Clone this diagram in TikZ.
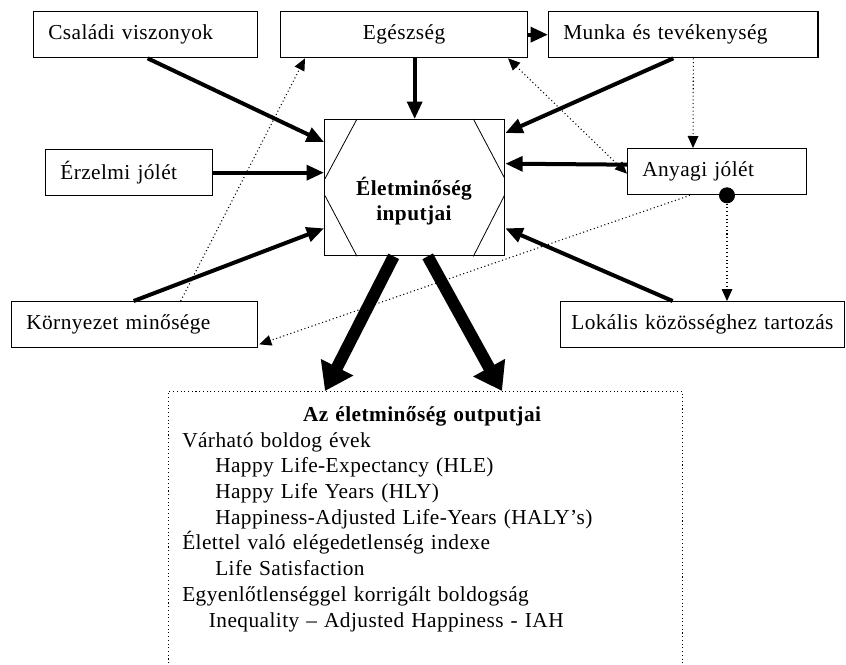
\documentclass[tikz,border=0pt]{standalone}
\usepackage{fontspec}
\setmainfont{Liberation Serif}[LetterSpace=2]
\usetikzlibrary{arrows.meta,calc}

\begin{document}
\begin{tikzpicture}[x=0.75pt,y=-0.75pt,
	every node/.style={font=\fontsize{16}{19.3}\selectfont},
	box/.style={draw,line width=1pt,anchor=north west,minimum height=34.5pt,inner xsep=11pt,inner ysep=0pt,text width=#1,align=left},
	inarr/.style={line width=3pt,-{Triangle[length=13pt,width=11pt]}},
	dotarr/.style={line width=0.8pt,dotted,-{Triangle[length=9pt,width=8pt]}},
	outarr/.style={line width=9pt,-{Triangle[length=20pt,width=26pt]}}]
	\useasboundingbox (0,0) rectangle (846,664);
	\clip (0,0) rectangle (846,664);

	\node[box=146pt] (cs) at (33,11) {Családi viszonyok};
	\node[box=163pt,align=center] (eg) at (280,11) {Egészség};
	\node[box=180pt] (mt) at (548,11) {Munka és tevékenység};
	\node[box=103pt] (ej) at (45,149) {Érzelmi jólét};
	\node[box=112pt] (aj) at (627,148) {Anyagi jólét};
	\node[box=162.5pt] (kz) at (11,301) {Környezet minősége};
	\node[box=197pt,inner xsep=8pt] (lk) at (560,301) {Lokális közösséghez tartozás};

	\node[draw,line width=1pt,anchor=north west,minimum width=135pt,minimum height=102pt,inner sep=0pt] (inp) at (324,119) {};
	\node[font=\bfseries\fontsize{16}{19.3}\selectfont,align=center] (inptxt) at (414,201) {Életminőség\\inputjai};
	\draw[line width=0.6pt] ($(inp.north west)+(33,0)$) -- ($(inp.west)+(1,-9)$)
		($(inp.west)+(1,8)$) -- ($(inp.south west)+(33,0)$)
		($(inp.north east)+(-32,0)$) -- ($(inp.east)+(-1,-10)$)
		($(inp.east)+(-1,8)$) -- ($(inp.south east)+(-32,0)$);

	\node[draw,dotted,line width=0.8pt,anchor=north west,minimum width=385.5pt,minimum height=300pt,inner sep=0pt] (out) at (168,391) {};
	\node[anchor=north west,inner sep=0pt,text width=360pt] (outtxt) at (182,406) {\centering\textbf{Az életminőség outputjai}\par
		\raggedright Várható boldog évek\\
		\hspace*{24.75pt}Happy Life-Expectancy (HLE)\\
		\hspace*{24.75pt}Happy Life Years (HLY)\\
		\hspace*{24.75pt}Happiness-Adjusted Life-Years (HALY’s)\\
		Élettel való elégedetlenség indexe\\
		\hspace*{24.75pt}Life Satisfaction\\
		Egyenlőtlenséggel korrigált boldogság\\
		\hspace*{20pt}Inequality – Adjusted Happiness - IAH};

	\node[circle,fill,inner sep=0pt,minimum size=12pt] (dot) at ($(aj.south)+(10,0)$) {};

	\draw[inarr] ($(cs.south)+(2,0)$) -- ($(inp.north west)+(0,23)$);
	\draw[inarr] (eg.south -| inp.north) -- (inp.north);
	\draw[inarr] (eg.east) -- (mt.west);
	\draw[inarr] ($(mt.south)+(-10,0)$) -- ($(inp.north east)+(0,14)$);
	\draw[inarr] (ej.east) -- (ej.east -| inp.west);
	\draw[inarr] ($(aj.west)+(0,-7)$) -- ($(inp.east)+(0,-24)$);
	\draw[inarr] ($(kz.north)+(-1,0)$) -- ($(inp.south west)+(0,-28)$);
	\draw[inarr] ($(lk.north)+(-30,0)$) -- ($(inp.south east)+(0,-28)$);

	\draw[dotarr,{Triangle[length=9pt,width=8pt]}-{Triangle[length=9pt,width=8pt]}] ($(eg.south east)+(-20,0)$) -- ($(aj.west)+(0,2)$);
	\draw[dotarr] ($(kz.north)+(46,0)$) -- ($(eg.south west)+(25,0)$);
	\draw[dotarr] ($(mt.south)+(10,0)$) -- ($(aj.north)+(-24,0)$);
	\draw[dotarr] (dot) -- (dot |- lk.north);
	\draw[dotarr] ($(aj.south)+(-27,0)$) -- ($(kz.south east)+(1,-4)$);

	\draw[outarr] ($(inp.south)+(-21,0)$) -- ($(out.north west)+(157,0)$);
	\draw[outarr] ($(inp.south)+(13,0)$) -- ($(out.north west)+(334,0)$);
\end{tikzpicture}
\end{document}
